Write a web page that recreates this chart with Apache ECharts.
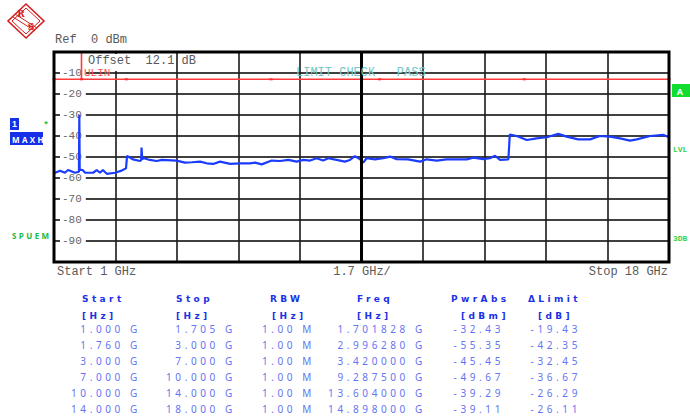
<!DOCTYPE html>
<html>
<head>
<meta charset="utf-8">
<script src="https://cdn.jsdelivr.net/npm/echarts@6/dist/echarts.min.js"></script>
<style>
html,body{margin:0;padding:0;background:#fff;}
#c{width:690px;height:416px;}
text[style*="Noto Sans"]{letter-spacing:3.6px;}
text[style*="DejaVu Sans"]{letter-spacing:3.4px;}
text[style*="Open Sans"]{letter-spacing:2.4px;}
</style>
</head>
<body>
<div id="c"></div>
<script>
// ---- trace data (GHz, dBm) ----
const traceFreq = [1.00,1.03,1.17,1.30,1.39,1.58,1.69,1.70,1.71,1.79,1.86,2.08,2.18,2.27,2.35,2.46,2.69,2.87,2.99,3.02,3.18,3.38,3.41,3.42,3.44,3.49,3.65,3.84,3.98,4.39,4.62,4.81,5.04,5.22,5.40,5.59,5.87,6.14,6.42,6.56,6.74,7.02,7.25,7.48,7.71,7.89,8.08,8.26,8.44,8.58,8.81,9.04,9.18,9.32,9.46,9.55,9.64,9.87,10.10,10.29,10.47,10.79,11.12,11.30,11.58,11.85,12.13,12.41,12.59,12.87,13.05,13.19,13.33,13.56,13.60,13.79,14.07,14.34,14.62,14.94,15.17,15.49,15.82,16.09,16.37,16.65,16.92,17.11,17.48,17.85,18.00];
const traceLevel = [-57.0,-57.5,-56.5,-57.5,-56.2,-57.5,-57.0,-30.0,-56.0,-56.2,-57.5,-57.5,-56.2,-57.5,-56.2,-58.0,-57.5,-56.5,-55.4,-49.5,-51.1,-51.9,-51.5,-45.5,-51.0,-50.6,-51.4,-51.9,-51.4,-51.7,-52.7,-52.5,-52.2,-53.0,-53.3,-52.2,-53.3,-53.0,-53.0,-52.7,-53.5,-51.7,-51.9,-51.4,-52.2,-51.4,-51.7,-50.6,-51.7,-50.6,-51.4,-52.2,-51.4,-49.6,-51.1,-52.7,-50.6,-51.1,-50.6,-49.8,-51.0,-51.1,-52.2,-51.1,-51.7,-51.1,-51.1,-51.1,-50.3,-51.0,-50.6,-49.4,-51.4,-51.1,-39.3,-40.0,-41.9,-41.1,-40.6,-39.0,-40.3,-41.6,-41.6,-40.0,-40.3,-41.1,-42.2,-41.6,-40.0,-39.5,-40.6];
// ---- limit line ----
const limitFreq = [1.00,1.76,3.00,7.00,10.00,14.00,18.00];
const limitLevel = [-13,-13,-13,-13,-13,-13,-13];
const limitEdgeFreq = [1.76,1.76];
const limitEdgeLevel = [0,-13];
// ---- axis ----
const yTicks = [-100,-90,-80,-70,-60,-50,-40,-30,-20,-10,0];
// ---- table ----
const colHead = ['Start','Stop','RBW','Freq','PwrAbs','\u0394Limit'];
const colUnit = ['[Hz]','[Hz]','[Hz]','[Hz]','[dBm]','[dB]'];
const startCol = ['1.000 G','1.760 G','3.000 G','7.000 G','10.000 G','14.000 G'];
const stopCol = ['1.705 G','3.000 G','7.000 G','10.000 G','14.000 G','18.000 G'];
const rbwCol = ['1.00 M','1.00 M','1.00 M','1.00 M','1.00 M','1.00 M'];
const freqCol = ['1.701828 G','2.996280 G','3.420000 G','9.287500 G','13.604000 G','14.898000 G'];
const pwrCol = ['-32.43','-55.35','-45.45','-49.67','-39.29','-39.11'];
const dlimCol = ['-19.43','-42.35','-32.45','-36.67','-26.29','-26.11'];

const chart = echarts.init(document.getElementById('c'), null, {renderer:'svg'});
const mono = '12px "Liberation Mono"';
const gray = '#5a5a5a';
const g = [];
function txt(x,y,t,font,fill,align,z){
  g.push({type:'text',x:x,y:y,z:z||10,style:{text:t,font:font,fill:fill,textAlign:align||'left',textVerticalAlign:'middle'}});
}
// logo
g.push({type:'polygon',z:10,shape:{points:[[26,4],[44,21],[26,38],[8,21]]},style:{fill:'#fff',stroke:'#d42020',lineWidth:1.6}});
g.push({type:'polygon',z:10,shape:{points:[[26,8],[40,21],[26,34],[12,21]]},style:{fill:'none',stroke:'#d42020',lineWidth:1}});
g.push({type:'line',z:10,shape:{x1:15,y1:14,x2:37,y2:28},style:{stroke:'#d42020',lineWidth:1}});
g.push({type:'line',z:10,shape:{x1:13,y1:17,x2:35,y2:31},style:{stroke:'#d42020',lineWidth:1}});
txt(21,14,'R','bold 9px "DejaVu Serif"','#d42020','center');
txt(31,27,'S','bold 9px "DejaVu Serif"','#d42020','center');
// header texts
txt(55,40,'Ref  0 dBm',mono,gray);
g.push({type:'rect',z:1,shape:{x:83,y:54,width:93,height:17},style:{fill:'#fff'}});
txt(88,61,'Offset  12.1 dB',mono,gray);
txt(84,73,'ULIN','11px "Liberation Mono"','#ff5050');
txt(296,73,'LIMIT CHECK   PASS',mono,'#74c6c6');
// bottom axis texts
txt(57,272,'Start 1 GHz',mono,gray);
txt(362,272,'1.7 GHz/',mono,gray,'center');
txt(668,272,'Stop 18 GHz',mono,gray,'right');
// side annotations
g.push({type:'rect',z:10,shape:{x:10,y:118,width:9,height:12},style:{fill:'#1530e8'}});
txt(14.5,124,'1','bold 9px "Liberation Sans"','#fff','center');
g.push({type:'rect',z:10,shape:{x:10,y:132,width:33,height:13},style:{fill:'#1530e8'}});
txt(12,139,'MAXH','bold 8px "Open Sans"','#fff');
txt(46,124,'*','bold 9px "Liberation Sans"','#22c040','center');
txt(12,235,'SPUEM','bold 8px "Open Sans"','#22b840');
g.push({type:'rect',z:10,shape:{x:672,y:84,width:18,height:13},style:{fill:'#10dd30'}});
txt(681,91,'A','bold 9px "Open Sans"','#fff','center');
txt(673,149,'LVL','bold 8px "Liberation Mono"','#3ad050');
txt(673,238,'3DB','bold 8px "Liberation Mono"','#3ad050');
// table
const headX = [82,176,270,357,451,528];
const unitX = [82,176,272,357,461,538];
const hdrFont = 'bold 9px "DejaVu Sans"';
const headColor = '#1a32e6';
for(let i=0;i<colHead.length;i++){
  txt(headX[i],299,colHead[i],hdrFont,headColor);
  txt(unitX[i],316,colUnit[i],hdrFont,headColor);
}
const dataFont = '10px "Noto Sans"';
const dataColor = '#6474f2';
const rowY = [329,345,361,377,393,409];
const cols = [[startCol,141],[stopCol,236],[rbwCol,315],[freqCol,426],[pwrCol,504],[dlimCol,581]];
cols.forEach(([arr,x])=>{arr.forEach((t,k)=>txt(x,rowY[k],t,dataFont,dataColor,'right'));});

const trace = traceFreq.map((f,i)=>[f,traceLevel[i]]);
const limit = limitFreq.map((f,i)=>[f,limitLevel[i]]);
const edge = limitEdgeFreq.map((f,i)=>[f,limitEdgeLevel[i]]);

chart.setOption({
  animation:false,
  backgroundColor:'#fff',
  grid:{left:54,top:52,width:615,height:210,show:true,borderColor:'#000',borderWidth:3,backgroundColor:'transparent',z:5},
  xAxis:[
    {type:'value',min:1,max:18,show:false},
    {type:'value',min:0,max:10,interval:1,axisLine:{show:false},axisTick:{show:false},axisLabel:{show:false},
     splitLine:{show:true,lineStyle:{color:'#1a1a1a',width:1.6}}}
  ],
  yAxis:{type:'value',min:yTicks[0],max:yTicks[yTicks.length-1],interval:10,
    axisLine:{show:false},axisTick:{show:false},
    splitLine:{show:true,lineStyle:{color:'#000',width:1.6}},
    axisLabel:{inside:true,margin:6,color:'#666',fontFamily:'Liberation Mono',fontSize:11,
      backgroundColor:'#fff',padding:[0,4,0,2],
      formatter:v=>(v===0||v===-100)?'':String(v)}},
  graphic:g,
  series:[
    {type:'line',data:limit,xAxisIndex:0,symbol:'rect',symbolSize:[3,2],showSymbol:true,
     itemStyle:{color:'#ff2a2a'},lineStyle:{color:'#ff3a3a',width:1.6},z:3},
    {type:'line',data:edge,xAxisIndex:0,symbol:'none',lineStyle:{color:'#ff3a3a',width:1.6},z:3},
    {type:'line',data:trace,xAxisIndex:0,symbol:'none',lineStyle:{color:'#1a3cff',width:2.2},z:4,
     markLine:{silent:true,symbol:['none','none'],label:{show:false},
       lineStyle:{color:'#000',width:3,type:'solid'},data:[{xAxis:9.5}]}}
  ]
});
</script>
</body>
</html>
